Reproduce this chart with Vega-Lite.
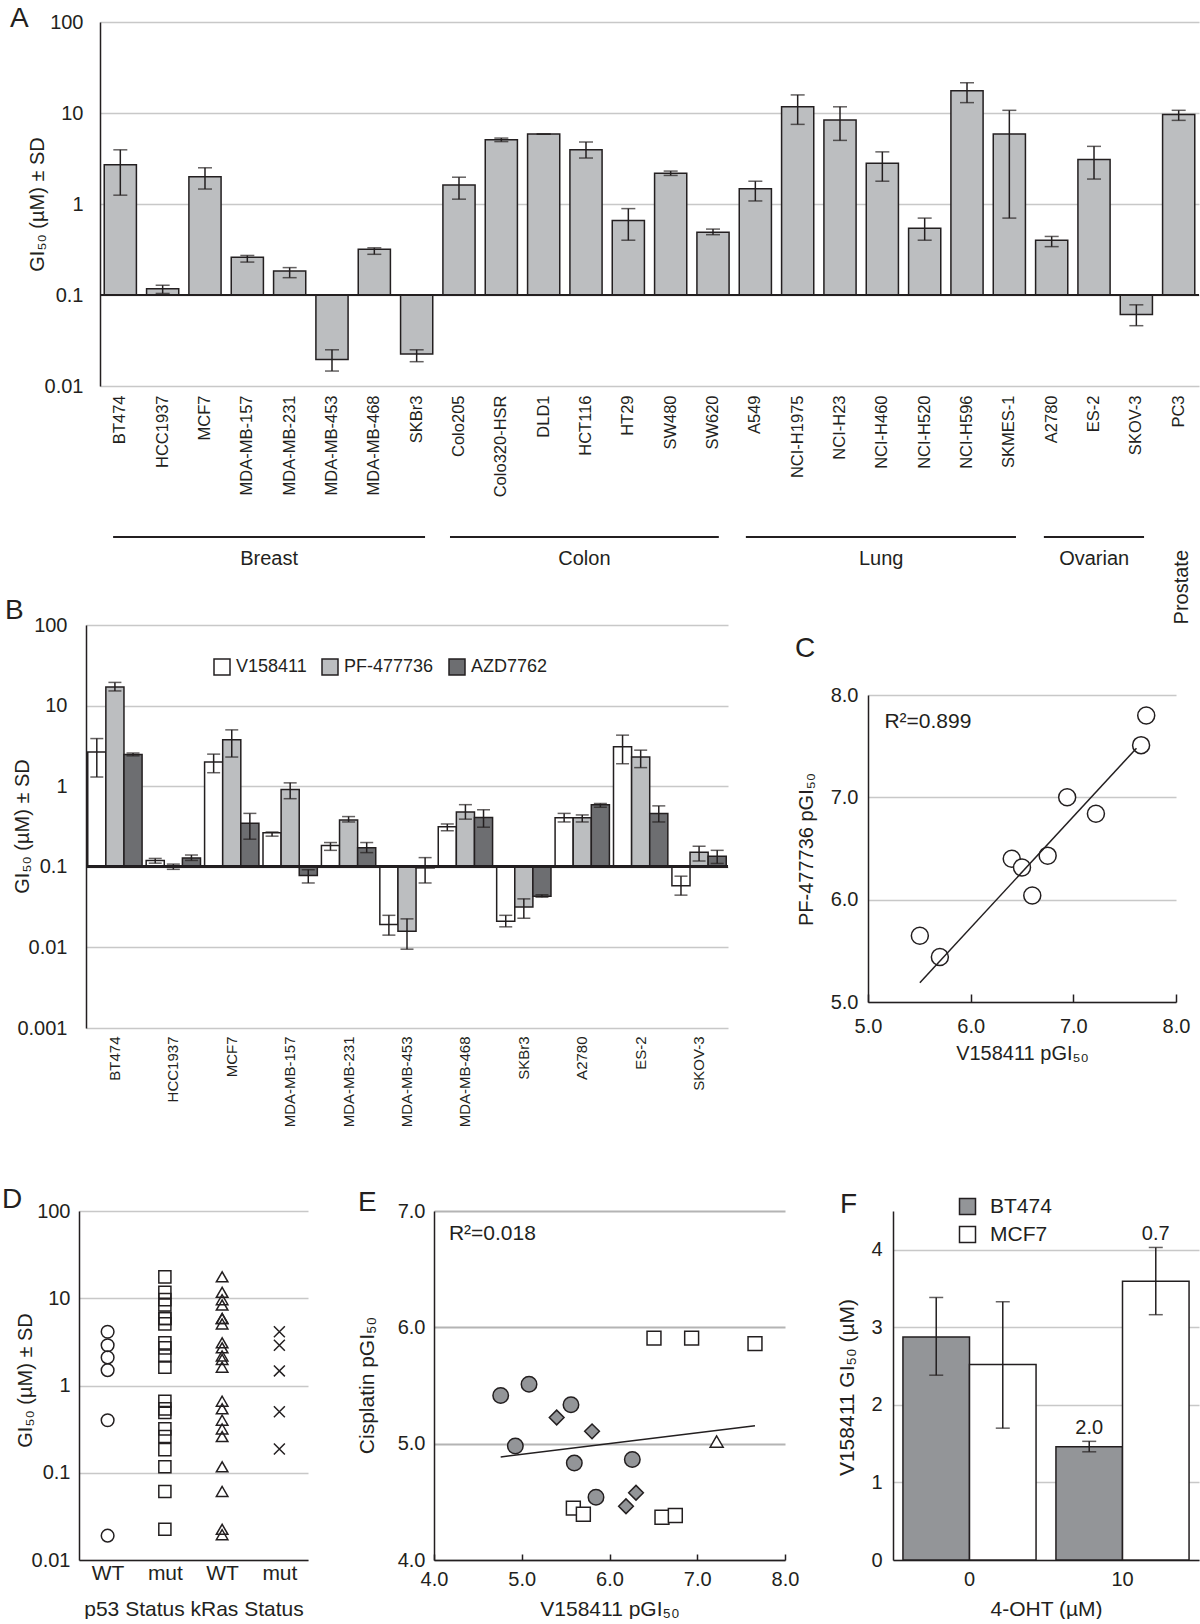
{
"$schema": "https://vega.github.io/schema/vega-lite/v6.json",
"background": "white",
"padding": {"left": 2, "top": 5, "right": 0, "bottom": 0},
"spacing": 59,
"resolve": {"scale": {"fill": "independent", "shape": "independent", "size": "independent", "xOffset": "independent"}},
"config": {
  "font": "Liberation Sans",
  "view": {"stroke": null},
  "axis": {"labelColor": "#231f20", "titleColor": "#231f20", "titleFontWeight": "normal", "labelFontSize": 20, "titleFontSize": 20, "domainColor": "#231f20", "domainWidth": 1.5, "gridColor": "#c8c8c8", "gridWidth": 1.5, "ticks": false, "tickColor": "#231f20", "tickWidth": 1.5, "labelFlush": false, "labelOverlap": false, "labelBound": false},
  "legend": {"labelColor": "#231f20", "symbolStrokeColor": "#231f20", "symbolStrokeWidth": 1.5, "symbolType": "square", "title": null},
  "title": {"fontSize": 28, "fontWeight": "normal", "anchor": "start", "frame": "group", "offset": 0, "color": "#231f20"},
  "text": {"color": "#231f20"}
},
"datasets": {
  "a": [
    {"cell": "BT474", "tissue": "Breast", "value": 2.70, "lo": 1.25, "hi": 3.94},
    {"cell": "HCC1937", "tissue": "Breast", "value": 0.117, "lo": 0.104, "hi": 0.128},
    {"cell": "MCF7", "tissue": "Breast", "value": 1.99, "lo": 1.46, "hi": 2.50},
    {"cell": "MDA-MB-157", "tissue": "Breast", "value": 0.26, "lo": 0.23, "hi": 0.272},
    {"cell": "MDA-MB-231", "tissue": "Breast", "value": 0.184, "lo": 0.155, "hi": 0.20},
    {"cell": "MDA-MB-453", "tissue": "Breast", "value": 0.0195, "lo": 0.0146, "hi": 0.025},
    {"cell": "MDA-MB-468", "tissue": "Breast", "value": 0.318, "lo": 0.28, "hi": 0.33},
    {"cell": "SKBr3", "tissue": "Breast", "value": 0.0225, "lo": 0.0185, "hi": 0.025},
    {"cell": "Colo205", "tissue": "Colon", "value": 1.62, "lo": 1.13, "hi": 1.97},
    {"cell": "Colo320-HSR", "tissue": "Colon", "value": 5.08, "lo": 4.85, "hi": 5.30},
    {"cell": "DLD1", "tissue": "Colon", "value": 5.86, "lo": 5.86, "hi": 5.86},
    {"cell": "HCT116", "tissue": "Colon", "value": 3.94, "lo": 3.2, "hi": 4.8},
    {"cell": "HT29", "tissue": "Colon", "value": 0.66, "lo": 0.40, "hi": 0.89},
    {"cell": "SW480", "tissue": "Colon", "value": 2.18, "lo": 2.06, "hi": 2.30},
    {"cell": "SW620", "tissue": "Colon", "value": 0.49, "lo": 0.46, "hi": 0.53},
    {"cell": "A549", "tissue": "Lung", "value": 1.47, "lo": 1.08, "hi": 1.78},
    {"cell": "NCI-H1975", "tissue": "Lung", "value": 11.7, "lo": 7.5, "hi": 15.8},
    {"cell": "NCI-H23", "tissue": "Lung", "value": 8.36, "lo": 5.0, "hi": 11.7},
    {"cell": "NCI-H460", "tissue": "Lung", "value": 2.81, "lo": 1.78, "hi": 3.74},
    {"cell": "NCI-H520", "tissue": "Lung", "value": 0.54, "lo": 0.40, "hi": 0.70},
    {"cell": "NCI-H596", "tissue": "Lung", "value": 17.6, "lo": 13.0, "hi": 21.5},
    {"cell": "SKMES-1", "tissue": "Lung", "value": 5.86, "lo": 0.70, "hi": 10.7},
    {"cell": "A2780", "tissue": "Ovarian", "value": 0.40, "lo": 0.34, "hi": 0.44},
    {"cell": "ES-2", "tissue": "Ovarian", "value": 3.08, "lo": 1.88, "hi": 4.3},
    {"cell": "SKOV-3", "tissue": "Ovarian", "value": 0.061, "lo": 0.046, "hi": 0.078},
    {"cell": "PC3", "tissue": "Prostate", "value": 9.64, "lo": 8.3, "hi": 10.7}
  ],
  "groups": [
    {"group": "Breast", "start": 0.31, "end": 7.69, "mid": 4.0},
    {"group": "Colon", "start": 8.28, "end": 14.64, "mid": 11.46},
    {"group": "Lung", "start": 15.28, "end": 21.67, "mid": 18.48},
    {"group": "Ovarian", "start": 22.33, "end": 24.70, "mid": 23.52},
    {"group": "Prostate", "start": null, "end": null, "mid": 25.6}
  ],
  "b": [
    {"cell": "BT474", "compound": "V158411", "value": 2.65, "lo": 1.30, "hi": 3.9},
    {"cell": "BT474", "compound": "PF-477736", "value": 17.0, "lo": 15.2, "hi": 19.4},
    {"cell": "BT474", "compound": "AZD7762", "value": 2.48, "lo": 2.38, "hi": 2.58},
    {"cell": "HCC1937", "compound": "V158411", "value": 0.12, "lo": 0.111, "hi": 0.127},
    {"cell": "HCC1937", "compound": "PF-477736", "value": 0.102, "lo": 0.093, "hi": 0.108},
    {"cell": "HCC1937", "compound": "AZD7762", "value": 0.129, "lo": 0.12, "hi": 0.14},
    {"cell": "MCF7", "compound": "V158411", "value": 1.99, "lo": 1.47, "hi": 2.5},
    {"cell": "MCF7", "compound": "PF-477736", "value": 3.77, "lo": 2.3, "hi": 5.0},
    {"cell": "MCF7", "compound": "AZD7762", "value": 0.348, "lo": 0.22, "hi": 0.46},
    {"cell": "MDA-MB-157", "compound": "V158411", "value": 0.264, "lo": 0.24, "hi": 0.27},
    {"cell": "MDA-MB-157", "compound": "PF-477736", "value": 0.91, "lo": 0.7, "hi": 1.1},
    {"cell": "MDA-MB-157", "compound": "AZD7762", "value": 0.078, "lo": 0.063, "hi": 0.092},
    {"cell": "MDA-MB-231", "compound": "V158411", "value": 0.184, "lo": 0.16, "hi": 0.2},
    {"cell": "MDA-MB-231", "compound": "PF-477736", "value": 0.38, "lo": 0.36, "hi": 0.42},
    {"cell": "MDA-MB-231", "compound": "AZD7762", "value": 0.172, "lo": 0.15, "hi": 0.2},
    {"cell": "MDA-MB-453", "compound": "V158411", "value": 0.0192, "lo": 0.0142, "hi": 0.025},
    {"cell": "MDA-MB-453", "compound": "PF-477736", "value": 0.0159, "lo": 0.0095, "hi": 0.0226},
    {"cell": "MDA-MB-453", "compound": "AZD7762", "value": 0.097, "lo": 0.063, "hi": 0.13},
    {"cell": "MDA-MB-468", "compound": "V158411", "value": 0.313, "lo": 0.28, "hi": 0.34},
    {"cell": "MDA-MB-468", "compound": "PF-477736", "value": 0.48, "lo": 0.39, "hi": 0.59},
    {"cell": "MDA-MB-468", "compound": "AZD7762", "value": 0.41, "lo": 0.31, "hi": 0.51},
    {"cell": "SKBr3", "compound": "V158411", "value": 0.0211, "lo": 0.018, "hi": 0.025},
    {"cell": "SKBr3", "compound": "PF-477736", "value": 0.0318, "lo": 0.023, "hi": 0.04},
    {"cell": "SKBr3", "compound": "AZD7762", "value": 0.0432, "lo": 0.042, "hi": 0.045},
    {"cell": "A2780", "compound": "V158411", "value": 0.405, "lo": 0.36, "hi": 0.46},
    {"cell": "A2780", "compound": "PF-477736", "value": 0.405, "lo": 0.36, "hi": 0.44},
    {"cell": "A2780", "compound": "AZD7762", "value": 0.59, "lo": 0.55, "hi": 0.61},
    {"cell": "ES-2", "compound": "V158411", "value": 3.08, "lo": 1.9, "hi": 4.3},
    {"cell": "ES-2", "compound": "PF-477736", "value": 2.3, "lo": 1.7, "hi": 2.8},
    {"cell": "ES-2", "compound": "AZD7762", "value": 0.46, "lo": 0.36, "hi": 0.57},
    {"cell": "SKOV-3", "compound": "V158411", "value": 0.058, "lo": 0.0445, "hi": 0.0765},
    {"cell": "SKOV-3", "compound": "PF-477736", "value": 0.152, "lo": 0.118, "hi": 0.18},
    {"cell": "SKOV-3", "compound": "AZD7762", "value": 0.135, "lo": 0.11, "hi": 0.16}
  ],
  "c": [
    {"v": 5.505, "pf": 5.648}, {"v": 5.70, "pf": 5.44}, {"v": 6.40, "pf": 6.40}, {"v": 6.50, "pf": 6.315},
    {"v": 6.60, "pf": 6.04}, {"v": 6.75, "pf": 6.43}, {"v": 6.94, "pf": 7.0}, {"v": 7.22, "pf": 6.84},
    {"v": 7.66, "pf": 7.51}, {"v": 7.71, "pf": 7.80}
  ],
  "cfit": [{"v": 5.505, "pf": 5.188}, {"v": 7.615, "pf": 7.48}],
  "cnote": [{"label": "R²=0.899", "v": 5.16, "pf": 7.74}],
  "d": [
    {"status": "p53 WT", "value": 4.13}, {"status": "p53 WT", "value": 2.89}, {"status": "p53 WT", "value": 2.10},
    {"status": "p53 WT", "value": 1.50}, {"status": "p53 WT", "value": 0.40}, {"status": "p53 WT", "value": 0.019},
    {"status": "p53 mut", "value": 2.70}, {"status": "p53 mut", "value": 0.117}, {"status": "p53 mut", "value": 0.26},
    {"status": "p53 mut", "value": 0.184}, {"status": "p53 mut", "value": 0.318}, {"status": "p53 mut", "value": 0.0225},
    {"status": "p53 mut", "value": 1.62}, {"status": "p53 mut", "value": 5.08}, {"status": "p53 mut", "value": 5.86},
    {"status": "p53 mut", "value": 0.66}, {"status": "p53 mut", "value": 2.18}, {"status": "p53 mut", "value": 0.49},
    {"status": "p53 mut", "value": 11.7}, {"status": "p53 mut", "value": 8.36}, {"status": "p53 mut", "value": 0.54},
    {"status": "p53 mut", "value": 17.6}, {"status": "p53 mut", "value": 5.86}, {"status": "p53 mut", "value": 3.08},
    {"status": "p53 mut", "value": 0.061}, {"status": "p53 mut", "value": 9.64},
    {"status": "kRas WT", "value": 2.70}, {"status": "kRas WT", "value": 0.117}, {"status": "kRas WT", "value": 1.99},
    {"status": "kRas WT", "value": 0.26}, {"status": "kRas WT", "value": 0.0195}, {"status": "kRas WT", "value": 0.318},
    {"status": "kRas WT", "value": 0.0225}, {"status": "kRas WT", "value": 1.62}, {"status": "kRas WT", "value": 5.08},
    {"status": "kRas WT", "value": 5.86}, {"status": "kRas WT", "value": 0.66}, {"status": "kRas WT", "value": 2.18},
    {"status": "kRas WT", "value": 11.7}, {"status": "kRas WT", "value": 8.36}, {"status": "kRas WT", "value": 0.54},
    {"status": "kRas WT", "value": 17.6}, {"status": "kRas WT", "value": 5.86}, {"status": "kRas WT", "value": 0.40},
    {"status": "kRas WT", "value": 3.08}, {"status": "kRas WT", "value": 0.061}, {"status": "kRas WT", "value": 9.64},
    {"status": "kRas mut", "value": 4.13}, {"status": "kRas mut", "value": 2.89}, {"status": "kRas mut", "value": 1.47},
    {"status": "kRas mut", "value": 0.50}, {"status": "kRas mut", "value": 0.187}
  ],
  "e": [
    {"tissue": "Lung", "v": 4.760, "cis": 5.414}, {"tissue": "Lung", "v": 5.083, "cis": 5.511},
    {"tissue": "Lung", "v": 5.561, "cis": 5.335}, {"tissue": "Lung", "v": 4.927, "cis": 4.980},
    {"tissue": "Lung", "v": 5.599, "cis": 4.833}, {"tissue": "Lung", "v": 5.846, "cis": 4.540},
    {"tissue": "Lung", "v": 6.260, "cis": 4.864},
    {"tissue": "Colon", "v": 5.398, "cis": 5.225}, {"tissue": "Colon", "v": 5.801, "cis": 5.106},
    {"tissue": "Colon", "v": 6.302, "cis": 4.578}, {"tissue": "Colon", "v": 6.188, "cis": 4.462},
    {"tissue": "Breast", "v": 6.507, "cis": 5.907}, {"tissue": "Breast", "v": 6.936, "cis": 5.907},
    {"tissue": "Breast", "v": 7.658, "cis": 5.860}, {"tissue": "Breast", "v": 5.588, "cis": 4.446},
    {"tissue": "Breast", "v": 5.702, "cis": 4.393}, {"tissue": "Breast", "v": 6.598, "cis": 4.368},
    {"tissue": "Breast", "v": 6.750, "cis": 4.383},
    {"tissue": "Ovarian", "v": 7.221, "cis": 5.018}
  ],
  "efit": [{"v": 4.76, "cis": 4.886}, {"v": 7.658, "cis": 5.153}],
  "enote": [{"label": "R²=0.018", "v": 4.17, "cis": 6.80}],
  "f": [
    {"oht": "0", "cell": "BT474", "value": 2.875, "lo": 2.383, "hi": 3.385, "note": ""},
    {"oht": "0", "cell": "MCF7", "value": 2.52, "lo": 1.70, "hi": 3.33, "note": ""},
    {"oht": "10", "cell": "BT474", "value": 1.461, "lo": 1.395, "hi": 1.53, "note": "2.0"},
    {"oht": "10", "cell": "MCF7", "value": 3.593, "lo": 3.163, "hi": 4.03, "note": "0.7"}
  ]
},
"vconcat": [
  {
    "spacing": -29,
    "resolve": {"scale": {"fill": "independent", "shape": "independent", "size": "independent", "xOffset": "independent"}},
    "vconcat": [
      {
        "bounds": "flush", "spacing": 0,
        "resolve": {"scale": {"fill": "independent", "shape": "independent", "size": "independent", "xOffset": "independent"}},
        "hconcat": [
          {"width": 21, "height": 10, "data": {"values": []}, "mark": "point", "encoding": {}},
          {
            "width": 1099, "height": 364,
            "title": {"text": "A", "dx": -90, "dy": 25},
            "resolve": {"scale": {"x": "independent", "y": "independent"}},
            "layer": [
              {
                "data": {"name": "a"},
                "layer": [
                  {"mark": {"type": "bar", "fill": "#bcbec0", "stroke": "#231f20", "strokeWidth": 1.5},
                   "encoding": {
                     "x": {"field": "cell", "type": "nominal", "sort": null, "scale": {"paddingInner": 0.24, "paddingOuter": 0.1},
                           "axis": {"title": null, "labelAngle": -90, "domain": false, "ticks": false, "labelPadding": 9, "labelFontSize": 16.5}},
                     "y": {"field": "value", "type": "quantitative", "title": "GI₅₀ (µM) ± SD", "scale": {"type": "log", "domain": [0.01, 100], "nice": false},
                           "axis": {"values": [0.01, 0.1, 1, 10, 100], "format": "~g", "grid": true, "labelPadding": 17, "titleX": -63, "titleY": 182, "titleBaseline": "middle", "titleAlign": "center"}},
                     "y2": {"datum": 0.1}}},
                  {"mark": {"type": "rule", "color": "#231f20", "strokeWidth": 1.5},
                   "encoding": {"x": {"field": "cell", "type": "nominal", "sort": null}, "y": {"field": "lo", "type": "quantitative", "title": "GI₅₀ (µM) ± SD"}, "y2": {"field": "hi"}}},
                  {"mark": {"type": "tick", "orient": "horizontal", "color": "#231f20", "thickness": 1.5, "size": 14},
                   "encoding": {"x": {"field": "cell", "type": "nominal", "sort": null}, "y": {"field": "lo", "type": "quantitative", "title": "GI₅₀ (µM) ± SD"}}},
                  {"mark": {"type": "tick", "orient": "horizontal", "color": "#231f20", "thickness": 1.5, "size": 14},
                   "encoding": {"x": {"field": "cell", "type": "nominal", "sort": null}, "y": {"field": "hi", "type": "quantitative", "title": "GI₅₀ (µM) ± SD"}}},
                  {"mark": {"type": "rule", "color": "#231f20", "strokeWidth": 2},
                   "encoding": {"y": {"datum": 0.1, "type": "quantitative"}}}
                ]
              },
              {
                "data": {"name": "groups"},
                "layer": [
                  {"transform": [{"filter": "datum.end != null"}],
                   "mark": {"type": "rule", "color": "#231f20", "strokeWidth": 2},
                   "encoding": {
                     "x": {"field": "start", "type": "quantitative", "scale": {"domain": [0, 26], "nice": false, "zero": false}, "axis": null},
                     "x2": {"field": "end"},
                     "y": {"datum": 2, "type": "quantitative", "scale": {"domain": [0, 2], "nice": false, "zero": false, "range": [559, 515]}, "axis": null}}},
                  {"transform": [{"filter": "datum.group != 'Prostate'"}],
                   "mark": {"type": "text", "fontSize": 20, "baseline": "middle", "align": "center"},
                   "encoding": {
                     "x": {"field": "mid", "type": "quantitative", "axis": null},
                     "y": {"datum": 1, "type": "quantitative", "axis": null},
                     "text": {"field": "group"}}},
                  {"transform": [{"filter": "datum.group == 'Prostate'"}],
                   "mark": {"type": "text", "fontSize": 20, "baseline": "middle", "align": "right", "angle": 270},
                   "encoding": {
                     "x": {"field": "mid", "type": "quantitative", "axis": null},
                     "y": {"datum": 1.41, "type": "quantitative", "axis": null},
                     "text": {"field": "group"}}}
                ]
              }
            ]
          }
        ]
      },
      {
        "bounds": "flush", "spacing": 0,
        "resolve": {"scale": {"fill": "independent", "shape": "independent", "size": "independent", "xOffset": "independent"}},
        "hconcat": [
          {"width": 7, "height": 10, "data": {"values": []}, "mark": "point", "encoding": {}},
          {
            "width": 642, "height": 403,
            "title": {"text": "B", "dx": -81, "dy": 14},
            "data": {"name": "b"},
            "layer": [
              {"mark": {"type": "bar", "stroke": "#231f20", "strokeWidth": 1.5},
               "encoding": {
                 "x": {"field": "cell", "type": "nominal", "sort": null, "scale": {"paddingInner": 0.07, "paddingOuter": 0.03},
                       "axis": {"title": null, "labelAngle": -90, "domain": false, "ticks": false, "labelPadding": 8, "labelFontSize": 15}},
                 "xOffset": {"field": "compound", "type": "nominal", "scale": {"domain": ["V158411", "PF-477736", "AZD7762"], "paddingInner": 0, "paddingOuter": 0}},
                 "y": {"field": "value", "type": "quantitative", "title": "GI₅₀ (µM) ± SD", "scale": {"type": "log", "domain": [0.001, 100], "nice": false},
                       "axis": {"values": [0.001, 0.01, 0.1, 1, 10, 100], "format": "~g", "grid": true, "labelPadding": 19, "titleX": -64, "titleY": 201, "titleBaseline": "middle", "titleAlign": "center"}},
                 "y2": {"datum": 0.1},
                 "fill": {"field": "compound", "type": "nominal", "scale": {"domain": ["V158411", "PF-477736", "AZD7762"], "range": ["#ffffff", "#bcbec0", "#6d6e71"]},
                          "legend": {"orient": "none", "legendX": 127, "legendY": 33, "direction": "horizontal", "symbolSize": 256, "labelFontSize": 18, "columnPadding": 12, "labelOffset": 5}}}},
              {"mark": {"type": "rule", "color": "#231f20", "strokeWidth": 1.5},
               "encoding": {"x": {"field": "cell", "type": "nominal", "sort": null}, "xOffset": {"field": "compound", "type": "nominal"}, "y": {"field": "lo", "type": "quantitative", "title": "GI₅₀ (µM) ± SD"}, "y2": {"field": "hi"}}},
              {"mark": {"type": "tick", "orient": "horizontal", "color": "#231f20", "thickness": 1.5, "size": 13},
               "encoding": {"x": {"field": "cell", "type": "nominal", "sort": null}, "xOffset": {"field": "compound", "type": "nominal"}, "y": {"field": "lo", "type": "quantitative", "title": "GI₅₀ (µM) ± SD"}}},
              {"mark": {"type": "tick", "orient": "horizontal", "color": "#231f20", "thickness": 1.5, "size": 13},
               "encoding": {"x": {"field": "cell", "type": "nominal", "sort": null}, "xOffset": {"field": "compound", "type": "nominal"}, "y": {"field": "hi", "type": "quantitative", "title": "GI₅₀ (µM) ± SD"}}},
              {"mark": {"type": "rule", "color": "#231f20", "strokeWidth": 2},
               "encoding": {"y": {"datum": 0.1, "type": "quantitative"}}}
            ]
          },
          {"width": 140, "height": 10, "data": {"values": []}, "mark": "point", "encoding": {}},
          {
            "width": 308, "height": 377,
            "title": {"text": "C", "dx": -73, "dy": 42},
            "layer": [
              {"data": {"name": "c"},
               "mark": {"type": "point", "filled": true, "fill": "white", "stroke": "#231f20", "strokeWidth": 1.5, "size": 289, "shape": "circle", "opacity": 1},
               "encoding": {
                 "x": {"field": "v", "type": "quantitative", "title": "V158411 pGI₅₀", "scale": {"domain": [5, 8], "nice": false, "zero": false},
                       "axis": {"values": [5, 6, 7, 8], "format": ".1f", "grid": false, "ticks": true, "tickSize": -8, "labelPadding": 22, "titleY": 51, "titleBaseline": "middle"}},
                 "y": {"field": "pf", "type": "quantitative", "title": "PF-477736 pGI₅₀", "scale": {"domain": [5, 8], "nice": false, "zero": false, "range": [377, 70]},
                       "axis": {"values": [5, 6, 7, 8], "format": ".1f", "grid": true, "labelPadding": 10, "titleX": -62, "titleY": 224, "titleBaseline": "middle", "titleAlign": "center"}}}},
              {"data": {"name": "cfit"},
               "mark": {"type": "line", "color": "#231f20", "strokeWidth": 1.5},
               "encoding": {"x": {"field": "v", "type": "quantitative", "title": "V158411 pGI₅₀"}, "y": {"field": "pf", "type": "quantitative", "title": "PF-477736 pGI₅₀"}}},
              {"data": {"name": "cnote"},
               "mark": {"type": "text", "fontSize": 21, "align": "left", "baseline": "middle"},
               "encoding": {"x": {"field": "v", "type": "quantitative", "title": "V158411 pGI₅₀"}, "y": {"field": "pf", "type": "quantitative", "title": "PF-477736 pGI₅₀"}, "text": {"field": "label"}}}
            ]
          }
        ]
      }
    ]
  },
  {
    "bounds": "flush", "spacing": 0,
    "resolve": {"scale": {"fill": "independent", "shape": "independent", "size": "independent", "xOffset": "independent"}},
    "hconcat": [
      {
        "width": 229, "height": 349,
        "title": {"text": "D", "dx": -77, "dy": 17},
        "data": {"name": "d"},
        "mark": {"type": "point", "filled": false, "stroke": "#231f20", "strokeWidth": 1.5, "opacity": 1},
        "encoding": {
          "x": {"field": "status", "type": "nominal", "scale": {"domain": ["p53 WT", "p53 mut", "kRas WT", "kRas mut"], "paddingInner": 0, "paddingOuter": 0},
                "axis": {"labelAngle": 0, "labelExpr": "split(datum.label, ' ')[1]", "title": "p53 Status kRas Status", "domain": true, "ticks": false, "labelPadding": 2, "labelFontSize": 21, "titleFontSize": 21, "titleY": 49, "titleBaseline": "middle"}},
          "y": {"field": "value", "type": "quantitative", "scale": {"type": "log", "domain": [0.01, 100], "nice": false},
                "axis": {"values": [0.01, 0.1, 1, 10, 100], "format": "~g", "grid": true, "title": "GI₅₀ (µM) ± SD", "labelPadding": 9, "titleX": -54, "titleY": 169, "titleBaseline": "middle", "titleAlign": "center"}},
          "shape": {"field": "status", "type": "nominal", "scale": {"domain": ["p53 WT", "p53 mut", "kRas WT", "kRas mut"], "range": ["circle", "square", "triangle-up", "M-1,-1L1,1M-1,1L1,-1"]}, "legend": null},
          "size": {"field": "status", "type": "nominal", "scale": {"domain": ["p53 WT", "p53 mut", "kRas WT", "kRas mut"], "range": [160, 120, 140, 90]}, "legend": null}
        }
      },
      {"width": 126, "height": 10, "data": {"values": []}, "mark": "point", "encoding": {}},
      {
        "width": 351, "height": 349,
        "title": {"text": "E", "dx": -76, "dy": 20},
        "layer": [
          {"data": {"name": "e"},
           "mark": {"type": "point", "filled": true, "stroke": "#231f20", "strokeWidth": 1.5, "opacity": 1},
           "encoding": {
             "x": {"field": "v", "type": "quantitative", "title": "V158411 pGI₅₀", "scale": {"domain": [4, 8], "nice": false, "zero": false},
                   "axis": {"values": [4, 5, 6, 7, 8], "format": ".1f", "titleFontSize": 21, "grid": false, "ticks": true, "tickSize": -6, "labelPadding": 15, "titleY": 49, "titleBaseline": "middle"}},
             "y": {"field": "cis", "type": "quantitative", "title": "Cisplatin pGI₅₀", "scale": {"domain": [4, 7], "nice": false, "zero": false},
                   "axis": {"values": [4, 5, 6, 7], "format": ".1f", "titleFontSize": 21, "grid": true, "gridColor": "#b4b4b4", "gridWidth": 2, "labelPadding": 9, "titleX": -67, "titleY": 174, "titleBaseline": "middle", "titleAlign": "center"}},
             "shape": {"field": "tissue", "type": "nominal", "scale": {"domain": ["Lung", "Colon", "Breast", "Ovarian"], "range": ["circle", "diamond", "square", "triangle-up"]}, "legend": null},
             "fill": {"field": "tissue", "type": "nominal", "scale": {"domain": ["Lung", "Colon", "Breast", "Ovarian"], "range": ["#939598", "#939598", "#ffffff", "#ffffff"]}, "legend": null},
             "size": {"field": "tissue", "type": "nominal", "scale": {"domain": ["Lung", "Colon", "Breast", "Ovarian"], "range": [240, 170, 280, 320]}, "legend": null}
           }},
          {"data": {"name": "efit"},
           "mark": {"type": "line", "color": "#231f20", "strokeWidth": 1.5},
           "encoding": {"x": {"field": "v", "type": "quantitative", "title": "V158411 pGI₅₀"}, "y": {"field": "cis", "type": "quantitative", "title": "Cisplatin pGI₅₀"}}},
          {"data": {"name": "enote"},
           "mark": {"type": "text", "fontSize": 21, "align": "left", "baseline": "middle"},
           "encoding": {"x": {"field": "v", "type": "quantitative", "title": "V158411 pGI₅₀"}, "y": {"field": "cis", "type": "quantitative", "title": "Cisplatin pGI₅₀"}, "text": {"field": "label"}}}
        ]
      },
      {"width": 108, "height": 10, "data": {"values": []}, "mark": "point", "encoding": {}},
      {
        "width": 306, "height": 349,
        "title": {"text": "F", "dx": -53, "dy": 27},
        "data": {"name": "f"},
        "layer": [
          {"mark": {"type": "bar", "stroke": "#231f20", "strokeWidth": 1.5},
           "encoding": {
             "x": {"field": "oht", "type": "nominal", "sort": null, "title": "4-OHT (µM)", "scale": {"domain": ["0", "10"], "paddingInner": 0.13, "paddingOuter": 0.065},
                   "axis": {"labelAngle": 0, "titleFontSize": 21, "domain": true, "ticks": false, "labelPadding": 9, "titleY": 49, "titleBaseline": "middle"}},
             "xOffset": {"field": "cell", "type": "nominal", "scale": {"domain": ["BT474", "MCF7"], "paddingInner": 0, "paddingOuter": 0}},
             "y": {"field": "value", "type": "quantitative", "title": "V158411 GI₅₀ (µM)", "scale": {"domain": [0, 4.5], "nice": false},
                   "axis": {"values": [0, 1, 2, 3, 4], "format": "d", "grid": true, "titleFontSize": 21, "labelPadding": 11, "titleX": -46, "titleY": 176, "titleBaseline": "middle", "titleAlign": "center"}},
             "fill": {"field": "cell", "type": "nominal", "scale": {"domain": ["BT474", "MCF7"], "range": ["#939598", "#ffffff"]},
                      "legend": {"orient": "none", "legendX": 64, "legendY": -15, "direction": "vertical", "symbolSize": 256, "labelFontSize": 21, "rowPadding": 5, "labelOffset": 12}}}},
          {"mark": {"type": "rule", "color": "#231f20", "strokeWidth": 1.5},
           "encoding": {"x": {"field": "oht", "type": "nominal", "sort": null, "title": "4-OHT (µM)"}, "xOffset": {"field": "cell", "type": "nominal"}, "y": {"field": "lo", "type": "quantitative", "title": "V158411 GI₅₀ (µM)"}, "y2": {"field": "hi"}}},
          {"mark": {"type": "tick", "orient": "horizontal", "color": "#231f20", "thickness": 1.5, "size": 14},
           "encoding": {"x": {"field": "oht", "type": "nominal", "sort": null, "title": "4-OHT (µM)"}, "xOffset": {"field": "cell", "type": "nominal"}, "y": {"field": "lo", "type": "quantitative", "title": "V158411 GI₅₀ (µM)"}}},
          {"mark": {"type": "tick", "orient": "horizontal", "color": "#231f20", "thickness": 1.5, "size": 14},
           "encoding": {"x": {"field": "oht", "type": "nominal", "sort": null, "title": "4-OHT (µM)"}, "xOffset": {"field": "cell", "type": "nominal"}, "y": {"field": "hi", "type": "quantitative", "title": "V158411 GI₅₀ (µM)"}}},
          {"mark": {"type": "text", "fontSize": 20, "baseline": "bottom", "align": "center", "dy": -3},
           "encoding": {"x": {"field": "oht", "type": "nominal", "sort": null, "title": "4-OHT (µM)"}, "xOffset": {"field": "cell", "type": "nominal"}, "y": {"field": "hi", "type": "quantitative", "title": "V158411 GI₅₀ (µM)"}, "text": {"field": "note"}}}
        ]
      }
    ]
  }
]
}
